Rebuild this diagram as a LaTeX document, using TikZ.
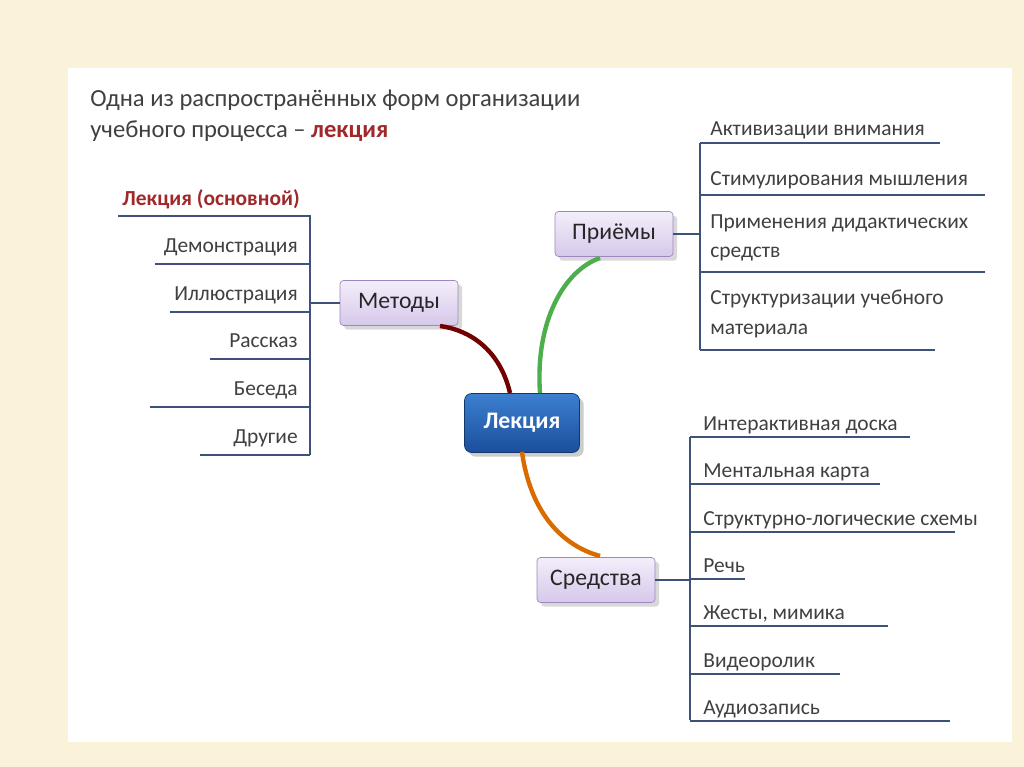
\documentclass[tikz,border=0pt]{standalone}
\usepackage{fontspec}
\setmainfont{Carlito}
\usetikzlibrary{positioning,shadows}
\definecolor{bgcream}{HTML}{FAF2D9}
\definecolor{linecol}{HTML}{3E5179}
\definecolor{txtcol}{HTML}{404040}
\definecolor{boxedge}{HTML}{9E86C0}
\definecolor{boxtop}{HTML}{F4EEFA}
\definecolor{boxbot}{HTML}{D6C8EA}
\definecolor{lecred}{HTML}{A0282A}
\definecolor{lectop}{HTML}{3C7FD0}
\definecolor{lecbot}{HTML}{1A4F9C}
\tikzset{
  branch/.style={draw=boxedge, rounded corners=2pt, top color=boxtop, bottom color=boxbot,
    minimum width=2.36cm, minimum height=0.9cm, font=\fontsize{13.5}{15}\selectfont, text=black!85,
    drop shadow={opacity=0.3}},
  leaf/.style={anchor=base west, font=\fontsize{12.2}{13}\selectfont, text=txtcol, inner sep=0pt},
  leafr/.style={anchor=base east, font=\fontsize{12.2}{13}\selectfont, text=txtcol, inner sep=0pt},
  rule/.style={draw=linecol, line width=1.1pt},
}
\begin{document}
\begin{tikzpicture}[x=0.02cm, y=-0.02cm]
\fill[bgcream] (0,0) rectangle (1024,767);
\fill[white] (68,68) rectangle (1012,742);
\useasboundingbox (0,0) rectangle (1024,767);
% title
\node[anchor=base west, inner sep=0pt, font=\fontsize{14}{15}\selectfont, text=txtcol] (title1) at (90,107) {Одна из распространённых форм организации};
\node[anchor=base west, inner sep=0pt, font=\fontsize{14}{15}\selectfont, text=txtcol] (title2) at (90,137) {учебного процесса – \textbf{\color{lecred}лекция}};
% centre and branches
\node[draw=lecbot!70!black, rounded corners=4pt, top color=lectop, bottom color=lecbot,
  minimum width=2.3cm, minimum height=1.18cm, text=white, font=\bfseries\fontsize{13.5}{15}\selectfont,
  drop shadow={opacity=0.4}] (lec) at (522,423) {Лекция};
\node[branch] (met) at (399,303) {Методы};
\node[branch] (pri) at (614,234) {Приёмы};
\node[branch] (sre) at (596,580) {Средства};
\draw[line width=2.5pt, red!45!black] (510,393) .. controls (500,350) and (470,330) .. (440,326);
\draw[line width=2.5pt, green!55!black!70] (540,393) .. controls (535,320) and (565,270) .. (600,258);
\draw[line width=2.5pt, orange!85!black] (522,452) .. controls (530,510) and (560,545) .. (600,556);
% methods list
\node[anchor=base east, inner sep=0pt, font=\bfseries\fontsize{12.2}{13}\selectfont, text=lecred] (m0) at (300,205) {Лекция (основной)};
\draw[rule] (118,216) -- (310,216) -- (310,455);
\foreach \t/\y/\xl [count=\i] in {Демонстрация/252/155, Иллюстрация/300/170, Рассказ/347/210, Беседа/395/150, Другие/443/200}{
  \node[leafr] (m\i) at (298,\y) {\t};
  \draw[rule] (\xl,\y+12) -- (310,\y+12);
}
\draw[rule] (310,303) -- (met.west);
% techniques list
\draw[rule] (700,143) -- (700,350);
\draw[rule] (pri.east) -- (700,234);
\node[leaf] (p1) at (710,135) {Активизации внимания};
\draw[rule] (700,143) -- (940,143);
\node[leaf] (p2) at (710,185) {Стимулирования мышления};
\draw[rule] (700,195) -- (985,195);
\node[leaf, align=left, anchor=north west] (p3) at (710,214) {Применения дидактических\\[4pt]средств};
\draw[rule] (700,272) -- (985,272);
\node[leaf, align=left, anchor=north west] (p4) at (710,290) {Структуризации учебного\\[4pt]материала};
\draw[rule] (700,350) -- (935,350);
% means list
\draw[rule] (690,437) -- (690,720);
\draw[rule] (sre.east) -- (690,580);
\foreach \t/\y/\xr [count=\i] in {Интерактивная доска/430/910, Ментальная карта/477/880, Структурно-логические схемы/525/955, Речь/572/745, Жесты{,} мимика/619/888, Видеоролик/667/840, Аудиозапись/714/950}{
  \node[leaf] (s\i) at (703,\y) {\t};
  \draw[rule] (690,\y+7) -- (\xr,\y+7);
}
\end{tikzpicture}
\end{document}
